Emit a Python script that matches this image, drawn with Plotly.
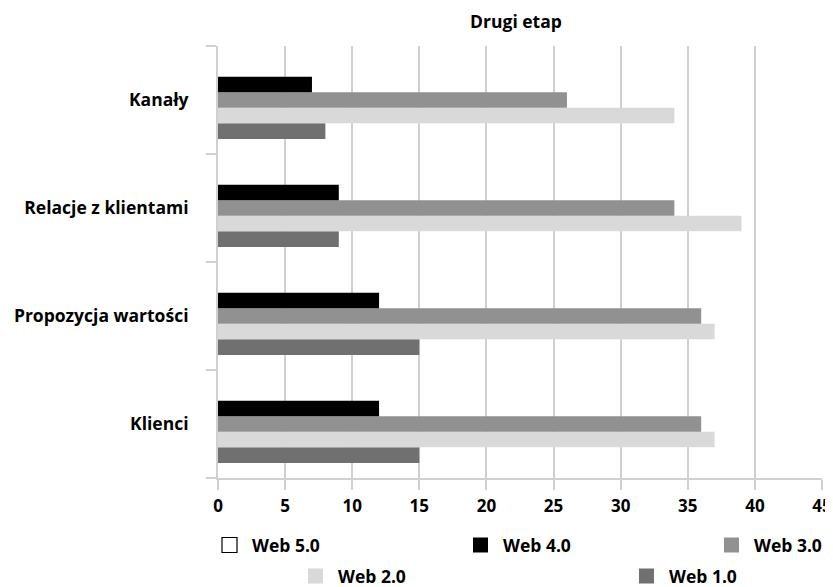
import plotly.graph_objects as go

categories = ["Klienci", "Propozycja wartości", "Relacje z klientami", "Kanały"]
web1 = [15, 15, 9, 8]
web2 = [37, 37, 39, 34]
web3 = [36, 36, 34, 26]
web4 = [12, 12, 9, 7]
web5 = [0, 0, 0, 0]
x_ticks = [0, 5, 10, 15, 20, 25, 30, 35, 40, 45]

FONT = "Open Sans"
FSIZE = 17.5
# page has an 8px body margin; figure coordinates are page coordinates minus 8
OFF = 8
W, H = 833, 587
ML, MR, MT, MB = 210, 19, 38, 117
PW, PH = W - ML - MR, H - MT - MB

fig = go.Figure()
series = [
    ("Web 1.0", web1, "#707070", "#707070"),
    ("Web 2.0", web2, "#d9d9d9", "#d9d9d9"),
    ("Web 3.0", web3, "#919191", "#919191"),
    ("Web 4.0", web4, "#000000", "#000000"),
    ("Web 5.0", web5, "#ffffff", "#000000"),
]
for name, vals, fill, line in series:
    fig.add_trace(go.Bar(
        y=categories, x=vals, name=name, orientation="h",
        marker=dict(color=fill, line=dict(width=0)),
        showlegend=False, hoverinfo="x+name",
    ))

# manual legend (page-pixel layout of entries: left of swatch, centre y)
legend_layout = {
    "Web 5.0": (222, 545), "Web 4.0": (473, 545), "Web 3.0": (724, 545),
    "Web 2.0": (308, 576), "Web 1.0": (639, 576),
}
SW = 15
def px_x(p):
    return (p - OFF - ML) / PW
def px_y(p):
    return (H - MB - (p - OFF)) / PH

for name, vals, fill, line in series:
    lx, ly = legend_layout[name]
    fig.add_shape(type="rect", xref="paper", yref="paper",
                  x0=px_x(lx), x1=px_x(lx + SW), y0=px_y(ly + SW / 2), y1=px_y(ly - SW / 2),
                  fillcolor=fill, line=dict(color=line, width=1.2 if name == "Web 5.0" else 0))
    fig.add_annotation(xref="paper", yref="paper", x=px_x(lx + 28), y=px_y(ly),
                       xanchor="left", yanchor="middle", showarrow=False,
                       text="<b>%s</b>" % name,
                       font=dict(family=FONT, size=FSIZE, color="#000000"))

fig.update_layout(
    width=W, height=H,
    margin=dict(l=ML, r=MR, t=MT, b=MB, autoexpand=False),
    paper_bgcolor="white", plot_bgcolor="white",
    barmode="group", bargap=0.28, bargroupgap=0,
    font=dict(family=FONT, size=FSIZE, color="#000000"),
    title=dict(text="<b>Drugi etap</b>", x=(516 - OFF) / W, xanchor="center",
               y=1 - (22 - OFF) / H, yanchor="middle",
               font=dict(family=FONT, size=FSIZE, color="#000000")),
    xaxis=dict(range=[0, 45], tickvals=x_ticks, showgrid=True, gridcolor="#d0d0d0", gridwidth=2,
               showline=True, linecolor="#d0d0d0", linewidth=2, ticks="outside", ticklen=10,
               tickwidth=2, tickcolor="#d0d0d0", automargin=False, ticklabelstandoff=2,
               ticklabeloverflow="allow",
               tickfont=dict(family=FONT, size=17, color="#000000", weight="bold"),
               zeroline=False, fixedrange=True),
    yaxis=dict(type="category", categoryorder="array", categoryarray=categories,
               range=[-0.5, 3.5], showline=True, linecolor="#d0d0d0", linewidth=2,
               ticks="outside", tickson="boundaries", ticklen=10, tickwidth=2, tickcolor="#d0d0d0",
               showgrid=False, automargin=False,
               tickfont=dict(family=FONT, size=FSIZE, color="#000000", weight="bold"),
               ticklabelstandoff=24, fixedrange=True),
    showlegend=False,
)

fig.write_html("out.html")
